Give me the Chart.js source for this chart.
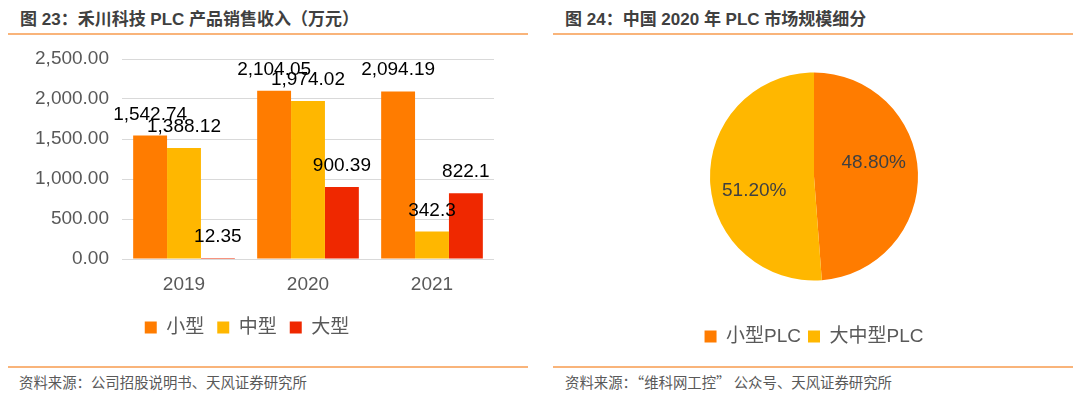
<!DOCTYPE html>
<html>
<head>
<meta charset="utf-8">
<script src="https://cdn.jsdelivr.net/npm/chart.js@4/dist/chart.umd.min.js"></script>
<style>
  html, body { margin: 0; padding: 0; background: #fff; }
  body { width: 1080px; height: 398px; position: relative; overflow: hidden;
         font-family: "Liberation Sans", "Noto Sans CJK SC", sans-serif; }
  .title { position: absolute; top: 10px; font-size: 17px; font-weight: bold; color: #404040; white-space: nowrap; line-height: 20px; }
  .rule { position: absolute; height: 2px; background: #F9B47A; }
  .rule2 { position: absolute; height: 1.5px; background: #F9B47A; }
  .src { position: absolute; top: 373px; font-size: 14.4px; color: #595959; white-space: nowrap; line-height: 18px;
         font-family: "Noto Sans CJK SC", sans-serif; }
  canvas { position: absolute; }
</style>
</head>
<body>
<div class="title" style="left:20px;">图 23：禾川科技 PLC 产品销售收入（万元）</div>
<div class="rule" style="left:8px; width:520px; top:33px;"></div>
<div class="title" style="left:565px;">图 24：中国 2020 年 PLC 市场规模细分</div>
<div class="rule" style="left:553px; width:520px; top:33px;"></div>

<div style="position:absolute; left:0; top:40px; width:520px; height:320px;"><canvas id="bar"></canvas></div>
<div style="position:absolute; left:553px; top:30px; width:504px; height:330px;"><canvas id="pie"></canvas></div>

<div class="rule2" style="left:8px; width:520px; top:366px;"></div>
<div class="rule2" style="left:553px; width:520px; top:366px;"></div>
<div class="src" style="left:19px;">资料来源：公司招股说明书、天风证券研究所</div>
<div class="src" style="left:565px;">资料来源：“维科网工控” 公众号、天风证券研究所</div>

<script>
// ---- data ----
const years = ['2019', '2020', '2021'];
const seriesNames = ['小型', '中型', '大型'];
const smallPLC = [1542.74, 2104.05, 2094.19];
const mediumPLC = [1388.12, 1974.02, 342.3];
const largePLC = [12.35, 900.39, 822.1];
const yTicks = [0, 500, 1000, 1500, 2000, 2500];

const pieLabels = ['小型PLC', '大中型PLC'];
const pieValues = [48.8, 51.2];

// ---- style ----
const FONT = '"Liberation Sans", "Noto Sans CJK SC", sans-serif';
const C_ORANGE = '#FF7C00';
const C_YELLOW = '#FFB700';
const C_RED = '#EF2800';
const C_TEXT = '#595959';

const fmtVal = v => v.toLocaleString('en-US', { maximumFractionDigits: 2 });
const fmtTick = v => v.toLocaleString('en-US', { minimumFractionDigits: 2, maximumFractionDigits: 2 });

const barLabelPlugin = {
  id: 'barLabels',
  afterDatasetsDraw(chart) {
    const ctx = chart.ctx;
    ctx.save();
    ctx.font = '19px ' + FONT;
    ctx.fillStyle = '#000';
    ctx.textAlign = 'center';
    ctx.textBaseline = 'alphabetic';
    chart.data.datasets.forEach((ds, i) => {
      const meta = chart.getDatasetMeta(i);
      meta.data.forEach((el, j) => {
        ctx.fillText(fmtVal(ds.data[j]), el.x, el.y - 16);
      });
    });
    ctx.restore();
  }
};

new Chart(document.getElementById('bar'), {
  type: 'bar',
  data: {
    labels: years,
    datasets: [
      { label: seriesNames[0], data: smallPLC, backgroundColor: C_ORANGE },
      { label: seriesNames[1], data: mediumPLC, backgroundColor: C_YELLOW },
      { label: seriesNames[2], data: largePLC, backgroundColor: C_RED }
    ]
  },
  options: {
    responsive: true,
    maintainAspectRatio: false,
    animation: false,
    devicePixelRatio: 1,
    layout: { padding: { top: 19, right: 26, bottom: 13, left: 0 } },
    datasets: { bar: { categoryPercentage: 0.82, barPercentage: 1.0, borderWidth: 0 } },
    plugins: {
      legend: {
        position: 'bottom',
        labels: { boxWidth: 12, boxHeight: 12, padding: 13, color: C_TEXT, font: { family: FONT, size: 19 } }
      },
      tooltip: { enabled: false }
    },
    scales: {
      x: {
        grid: { display: false },
        border: { display: false },
        ticks: { color: C_TEXT, padding: 6, font: { family: FONT, size: 19 } },
        afterFit(scale) { scale.height = 46; scale.paddingLeft = 0; scale.paddingRight = 0; }
      },
      y: {
        min: yTicks[0],
        max: yTicks[yTicks.length - 1],
        afterBuildTicks(scale) { scale.ticks = yTicks.map(v => ({ value: v })); },
        grid: { color: '#D9D9D9', lineWidth: 1, drawTicks: false },
        border: { display: false },
        ticks: { color: C_TEXT, padding: 13, font: { family: FONT, size: 19 }, callback: v => fmtTick(v) },
        afterFit(scale) { scale.width = 122; scale.paddingTop = 0; scale.paddingBottom = 0; }
      }
    }
  },
  plugins: [barLabelPlugin]
});

const pieLabelPlugin = {
  id: 'pieLabels',
  afterDatasetsDraw(chart) {
    const ctx = chart.ctx;
    const meta = chart.getDatasetMeta(0);
    const vals = chart.data.datasets[0].data;
    ctx.save();
    ctx.font = '19px ' + FONT;
    ctx.fillStyle = '#404040';
    ctx.textAlign = 'center';
    ctx.textBaseline = 'middle';
    meta.data.forEach((arc, i) => {
      const p = arc.getProps(['x', 'y', 'startAngle', 'endAngle', 'outerRadius']);
      const a = (p.startAngle + p.endAngle) / 2 - 0.19;
      const r = p.outerRadius * 0.59;
      ctx.fillText(vals[i].toFixed(2) + '%', p.x + Math.cos(a) * r, p.y + Math.sin(a) * r);
    });
    ctx.restore();
  }
};

new Chart(document.getElementById('pie'), {
  type: 'pie',
  data: {
    labels: pieLabels,
    datasets: [{ data: pieValues, backgroundColor: [C_ORANGE, C_YELLOW], borderWidth: 0 }]
  },
  options: {
    responsive: true,
    maintainAspectRatio: false,
    animation: false,
    devicePixelRatio: 1,
    radius: 104,
    layout: { padding: { top: 3, right: 0, bottom: 4, left: 18 } },
    plugins: {
      legend: {
        position: 'bottom',
        labels: { boxWidth: 12, boxHeight: 12, padding: 7, color: C_TEXT, font: { family: FONT, size: 19 } }
      },
      tooltip: { enabled: false }
    }
  },
  plugins: [pieLabelPlugin]
});
</script>
</body>
</html>
